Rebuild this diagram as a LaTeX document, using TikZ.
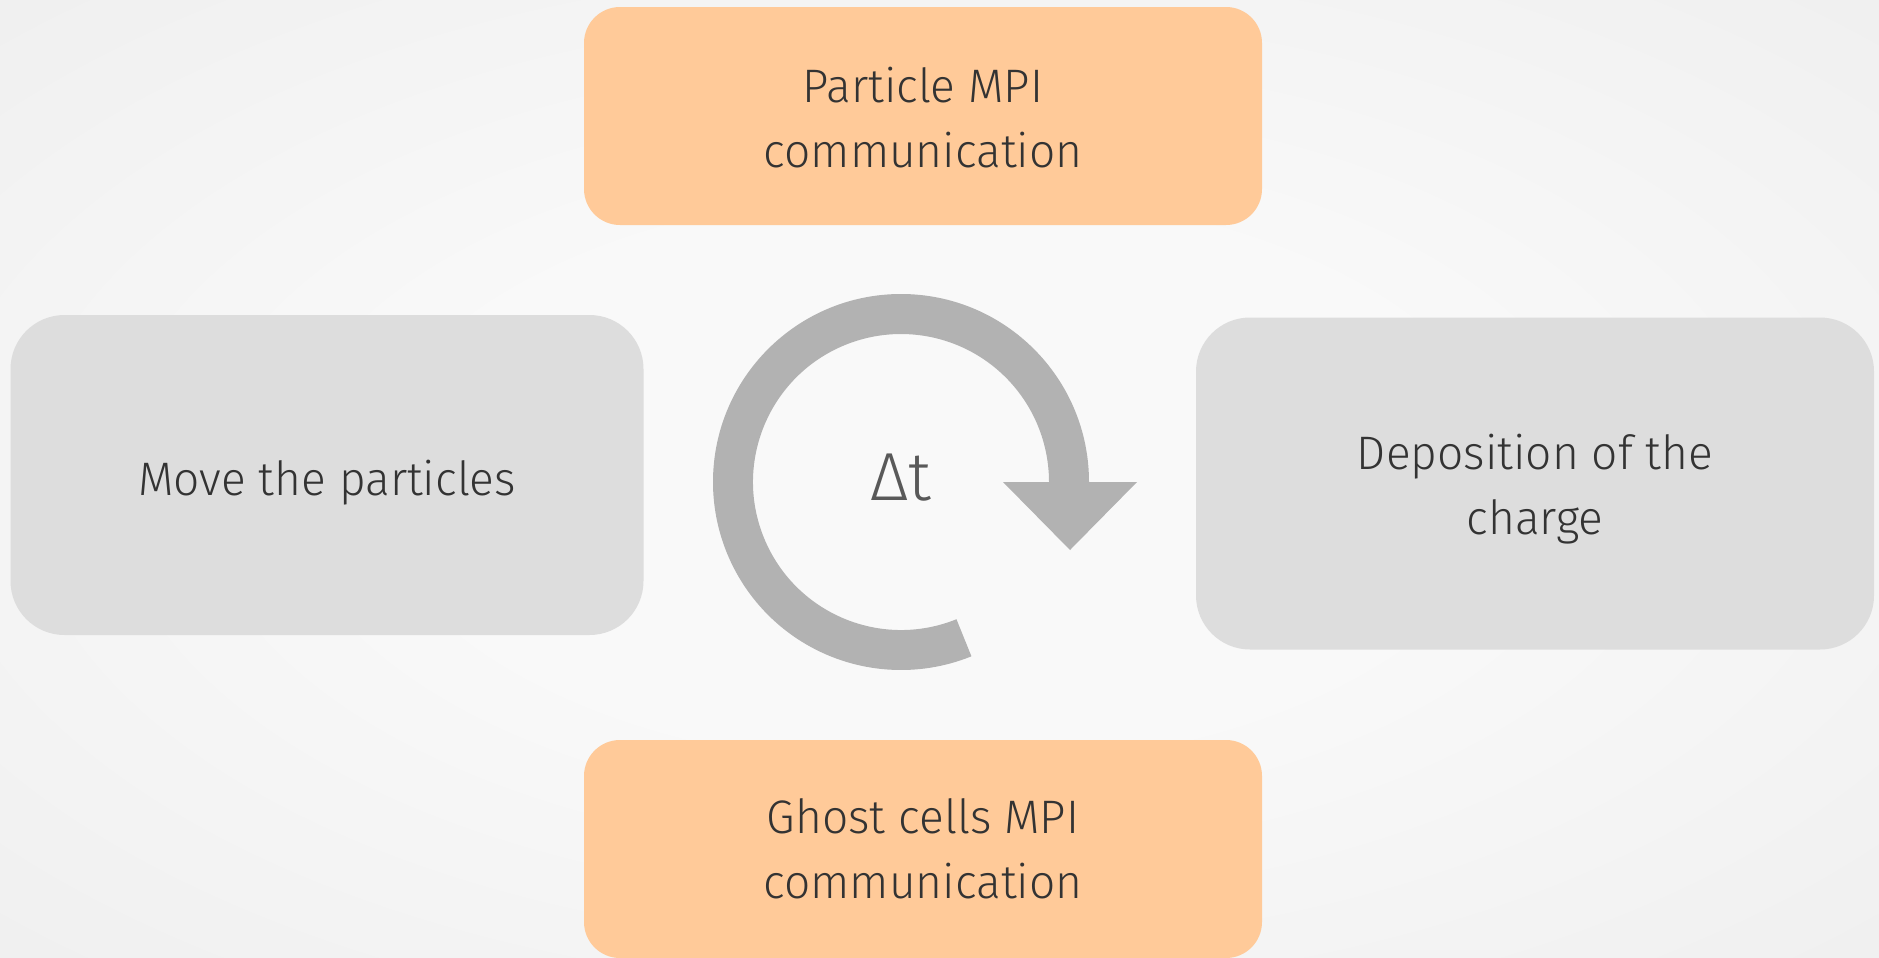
\documentclass[tikz,border=0pt]{standalone}
\usepackage{fontspec}
\newfontfamily\boxfont{Fira Sans Light}[FakeStretch=0.98]

\definecolor{bgin}{HTML}{F9F9F9}
\definecolor{bgout}{HTML}{E0E0E0}
\definecolor{stepOrange}{HTML}{FFCA99}
\definecolor{stepGrey}{HTML}{DDDDDD}
\definecolor{loopGrey}{HTML}{B2B2B2}
\definecolor{labelInk}{HTML}{333333}
\definecolor{deltaInk}{HTML}{595959}

\pgfdeclareradialshading{backglow}{\pgfpoint{0bp}{0bp}}{%
  color(0bp)=(bgin); color(14bp)=(bgin); color(72bp)=(bgout)}

\tikzset{
  steptext/.style={align=center, inner sep=0pt, text=labelInk,
    font=\boxfont\fontsize{23.5}{32.5}\selectfont},
  mpibox/.style={fill=stepOrange, rounded corners=18pt, inner sep=0pt,
    minimum width=339pt, minimum height=109pt},
  workbox/.style={fill=stepGrey, rounded corners=27pt, inner sep=0pt},
}

\begin{document}
\begin{tikzpicture}[x=0.5pt, y=-0.5pt]
  \useasboundingbox (0,0) rectangle (1879,958);
  \shade[shading=backglow] (0,0) rectangle (1879,958);

  % four stages of the time step
  \node[mpibox] (pmpi) at (923,116) {};
  \node[workbox, minimum width=316.5pt, minimum height=160pt] (move) at (327,475) {};
  \node[workbox, minimum width=339pt, minimum height=166pt] (depo) at (1535,483.5) {};
  \node[mpibox] (gmpi) at (923,849) {};

  \node[steptext, yshift=-1pt] (pmpitext) at (pmpi) {Particle MPI\\communication};
  \node[steptext, yshift=-4pt] (movetext) at (move) {Move the particles};
  \node[steptext, yshift=-3pt] (depotext) at (depo) {Deposition of the\\charge};
  \node[steptext] (gmpitext) at (gmpi) {Ghost cells MPI\\communication};

  % circular loop arrow
  \coordinate (ring) at (901,482);
  \begin{scope}[shift={(ring)}, x=1pt, y=1pt]
    \fill[loopGrey]
      (94,0) arc[start angle=0, end angle=292, radius=94]
      -- (292:74) arc[start angle=292, end angle=0, radius=74]
      -- (51,0) -- (84.5,-34) -- (118,0) -- cycle;
  \end{scope}
  \node[text=deltaInk, font=\boxfont\fontsize{34}{38}\selectfont] (dt) at (901,478) {Δt};
\end{tikzpicture}
\end{document}
